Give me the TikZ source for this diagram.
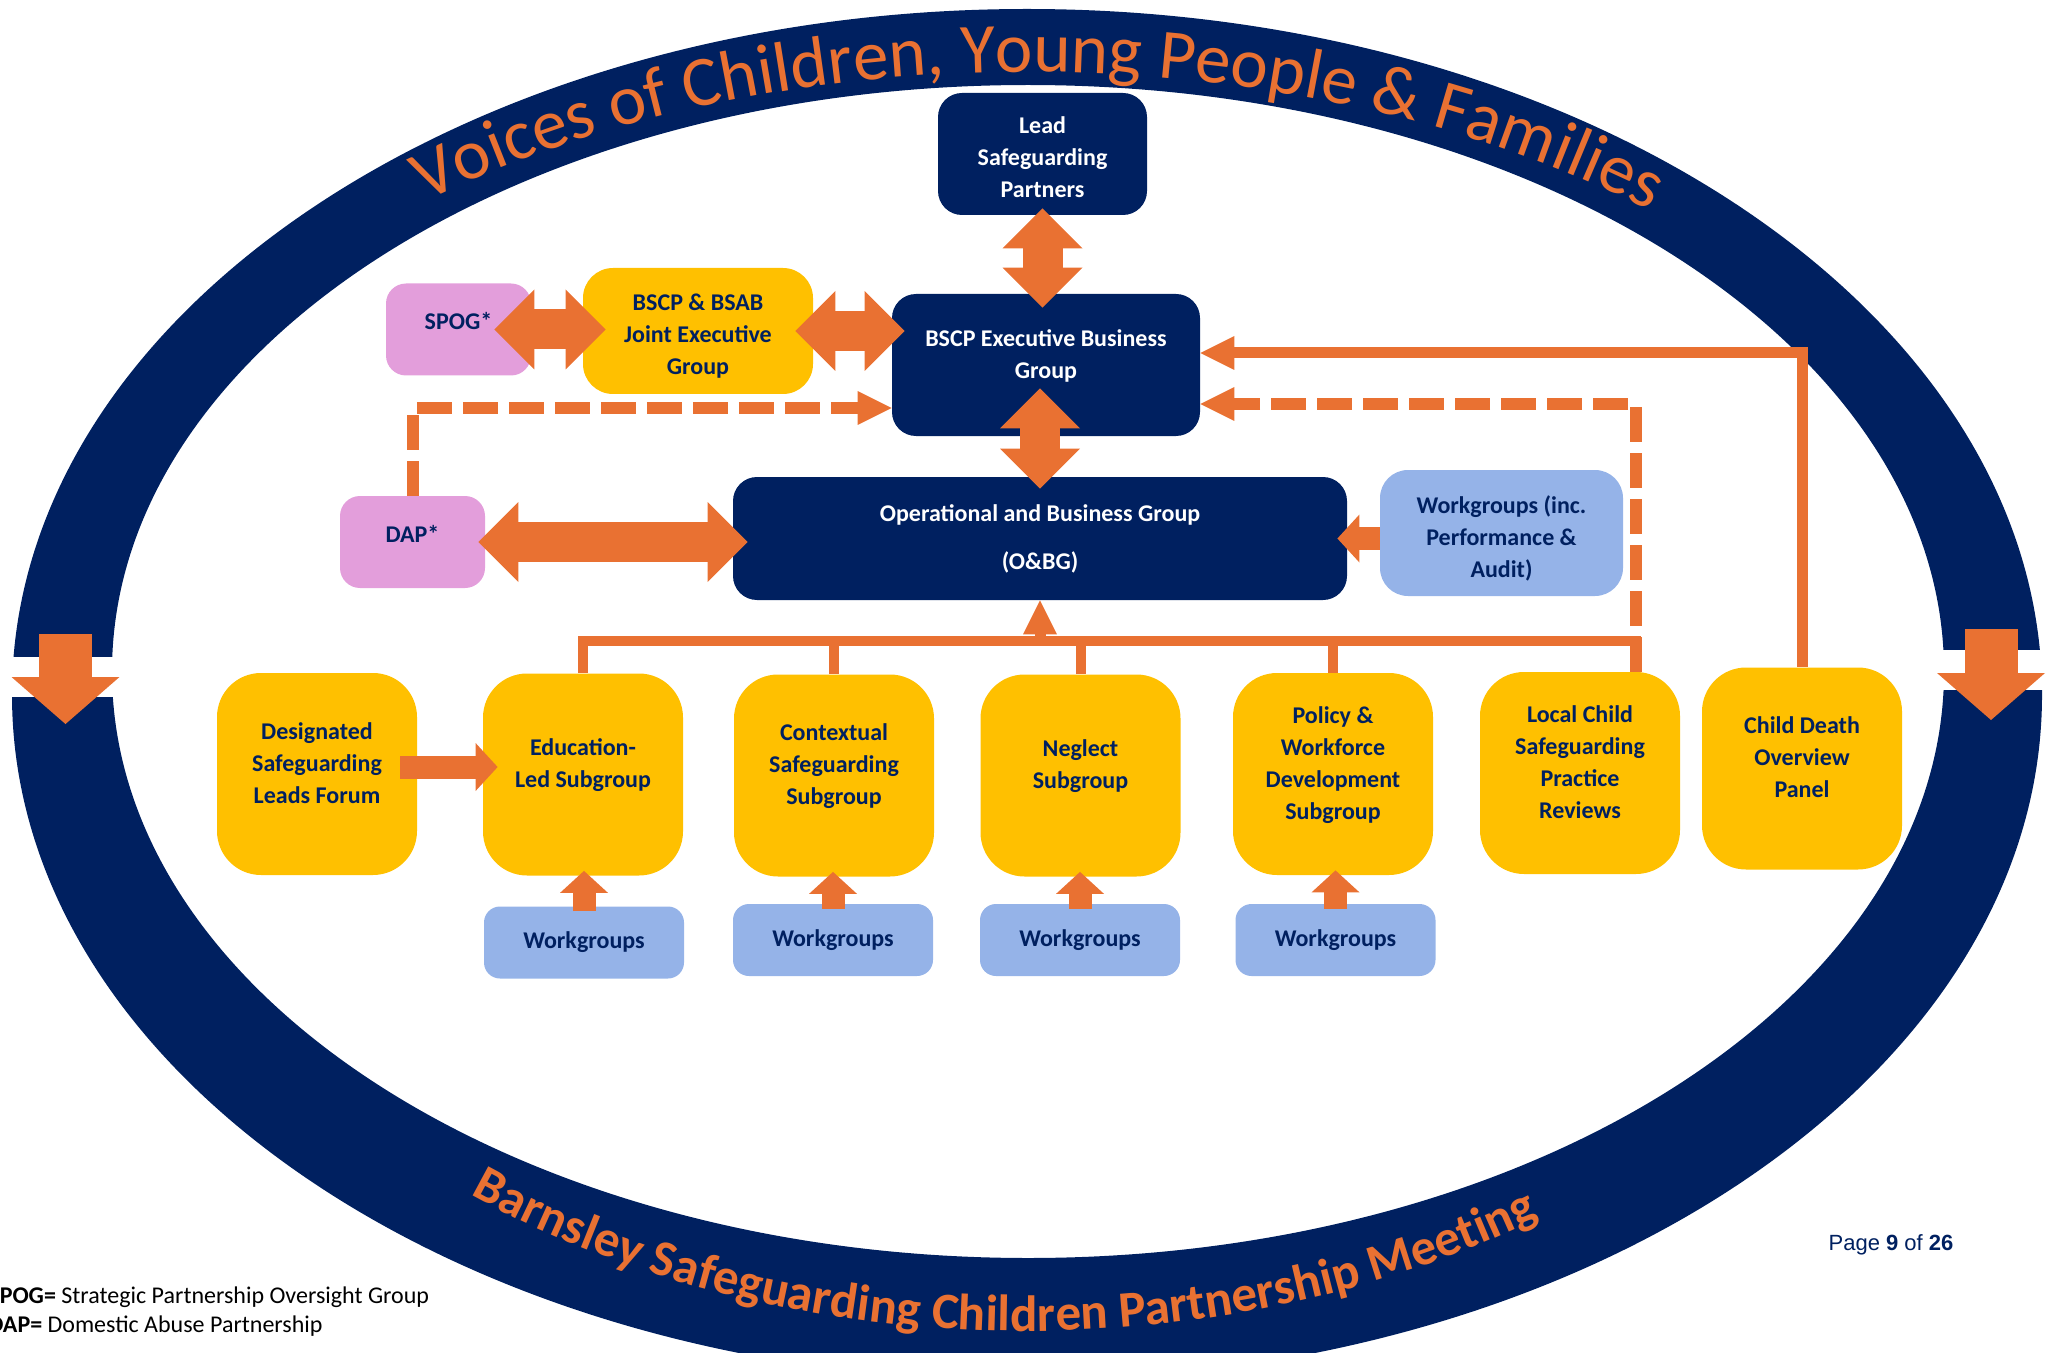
\documentclass[tikz,border=0pt]{standalone}
\usepackage{fontspec}
\setmainfont{Carlito}
\newfontfamily\footfont{Liberation Sans}
\usepackage{tikz}
\usetikzlibrary{arrows.meta}
\usetikzlibrary{decorations.text}

\definecolor{navy}{HTML}{002060}
\definecolor{sunny}{HTML}{FFC000}
\definecolor{lilac}{HTML}{E39EDB}
\definecolor{skyblue}{HTML}{95B3E8}
\definecolor{flame}{HTML}{E97132}

\begin{document}
\begin{tikzpicture}[x=0.5pt, y=-0.5pt,
        box/.style={inner sep=0pt, align=center, font=\fontsize{12}{16}\selectfont\bfseries, text=navy},
        darkbox/.style={box, fill=navy, text=white, rounded corners=12pt},
        subbox/.style={box, fill=sunny, rounded corners=22pt, minimum width=100pt, minimum height=101pt, text depth=11pt},
        pinkbox/.style={box, fill=lilac, rounded corners=10pt, minimum width=72.5pt, minimum height=46pt, text depth=8.5pt},
        wgbox/.style={box, fill=skyblue, rounded corners=8pt, minimum width=100pt, minimum height=36pt},
        fatarrow/.style={flame, line width=20pt, {Triangle[width=40pt, length=20pt, line width=0pt]}-{Triangle[width=40pt, length=20pt, line width=0pt]}},
        smallarrow/.style={flame, line width=11.5pt, -{Triangle[width=24pt, length=11pt, line width=0pt]}},
        feed/.style={flame, line width=5.5pt, -{Triangle[width=17pt, length=17pt, line width=0pt]}},
        dashfeed/.style={feed, line width=6pt, dash pattern=on 17.5pt off 5.5pt},
        bus/.style={flame, line width=5pt},
        ringarrow/.style={flame, line width=26.5pt, -{Triangle[width=54pt, length=23.5pt, line width=0pt]}}
    ]
        \useasboundingbox (0,0) rectangle (2055,1353);

        % Ring
        \coordinate (ringc) at (1028,672);
        \coordinate (ringb) at (1027,693);
        \fill[navy, even odd rule] (1027,695) ellipse[x radius=1015, y radius=686] (1028,671.5) ellipse[x radius=916, y radius=586.5];
        \fill[white] (0,657) rectangle (140,697);
        \fill[white] (1915,650) rectangle (2055,690);
        \coordinate (ltop) at (65.5,634);
        \coordinate (lbot) at (65.5,724);
        \coordinate (rtop) at (1991,629);
        \coordinate (rbot) at (1991,720);
        \draw[ringarrow] (ltop) -- (lbot);
        \draw[ringarrow] (rtop) -- (rbot);
        \path[decorate, decoration={text along path, text align=center,
            text={|\fontsize{35.5}{35.5}\selectfont\color{flame}|Voices of Children, Young People {\&} Families}}]
            (ringc) ++(191:972 and 600) arc[start angle=191, end angle=351, x radius=972, y radius=600];
        \path[decorate, decoration={text along path, text align=center,
            text={|\fontsize{25.5}{25.5}\selectfont\bfseries\color{flame}|Barnsley Safeguarding Children Partnership Meeting}}]
            (ringb) ++(172:900 and 638) arc[start angle=172, end angle=12.4, x radius=900, y radius=638];

        % Nodes
        \node[darkbox, minimum width=104.5pt, minimum height=61pt, text height=44pt] (lead) at (1042.5,154) {Lead\\Safeguarding\\Partners};
        \node[darkbox, minimum width=154pt, minimum height=71pt, text depth=10.5pt] (exec) at (1046,365) {BSCP Executive Business\\Group};
        \node[box, fill=sunny, rounded corners=15pt, minimum width=115pt, minimum height=63pt, text height=45.5pt] (joint) at (698,331) {BSCP \& BSAB\\Joint Executive\\Group};
        \node[pinkbox] (spog) at (458.5,329.5) {SPOG*};
        \node[pinkbox] (dap) at (412.5,542) {DAP*};
        \node[darkbox, minimum width=307pt, minimum height=61.5pt] (obg) at (1040,538.5) {Operational and Business Group\\[8pt](O\&BG)};
        \node[box, fill=skyblue, rounded corners=14pt, minimum width=121.5pt, minimum height=63pt, text height=46pt] (wgpa) at (1501.5,533) {Workgroups (inc.\\Performance \&\\Audit)};

        \node[subbox] (dslf) at (317,774) {Designated\\Safeguarding\\Leads Forum};
        \node[subbox] (edu) at (583,774.5) {Education-\\Led Subgroup};
        \node[subbox] (ctx) at (834,775.5) {Contextual\\Safeguarding\\Subgroup};
        \node[subbox] (neglect) at (1080.5,775.5) {Neglect\\Subgroup};
        \node[subbox] (policy) at (1333,774) {Policy \&\\Workforce\\Development\\Subgroup};
        \node[subbox] (lcspr) at (1580,773) {Local Child\\Safeguarding\\Practice\\Reviews};
        \node[subbox] (cdop) at (1802,768.5) {Child Death\\Overview\\Panel};

        \node[wgbox] (wgedu) at (584,942.5) {Workgroups};
        \node[wgbox] (wgctx) at (833,940) {Workgroups};
        \node[wgbox] (wgneg) at (1080,940) {Workgroups};
        \node[wgbox] (wgpol) at (1335.5,940) {Workgroups};

        % Edges
        \draw[fatarrow, shorten <=-3.5pt, shorten >=-7pt] (lead.south) -- (lead.south |- exec.north);
        \draw[fatarrow, shorten <=-24pt, shorten >=-6pt] (exec.south -| obg.north) -- (obg.north);
        \draw[fatarrow, shorten <=-18.5pt, shorten >=-11.5pt] (spog.east) -- (spog.east -| joint.west);
        \draw[fatarrow, shorten <=-9pt, shorten >=-6.5pt] (joint.east) -- (joint.east -| exec.west);
        \draw[fatarrow, shorten <=-3.5pt, shorten >=-7.5pt] (dap.east) -- (dap.east -| obg.west);

        \draw[smallarrow, shorten >=-5pt] (wgpa.west |- obg.east) -- (obg.east);
        \draw[smallarrow, shorten <=-8.5pt, shorten >=-7.5pt] ([yshift=3.5pt]dslf.east) -- ([yshift=3.5pt]dslf.east -| edu.west);
        \draw[smallarrow, shorten <=-2.5pt, shorten >=-2.5pt] (wgedu.north) -- (wgedu.north |- edu.south);
        \draw[smallarrow, shorten <=-2.5pt, shorten >=-2.5pt] (wgctx.north) -- (wgctx.north |- ctx.south);
        \draw[smallarrow, shorten <=-2.5pt, shorten >=-2.5pt] (wgneg.north) -- (wgneg.north |- neglect.south);
        \draw[smallarrow, shorten <=-2.5pt, shorten >=-2.5pt] (wgpol.north) -- (wgpol.north |- policy.south);

        \draw[feed] (cdop.north) |- ([yshift=6pt]exec.east);
        \coordinate (lcdrop) at ([xshift=-22pt]lcspr.north east);
        \draw[dashfeed] (lcdrop) |- ([yshift=-19.5pt]exec.east);
        \draw[dashfeed] (dap.north) |- ([yshift=-21.5pt]exec.west);

        \coordinate (bus) at (1043,641);
        \draw[bus] (edu.north) |- (lcdrop |- bus) -- (lcdrop);
        \draw[bus] (ctx.north) -- (ctx.north |- bus);
        \draw[bus] (neglect.north) -- (neglect.north |- bus);
        \draw[bus] (policy.north) -- (policy.north |- bus);
        \draw[feed] (obg.south |- bus) -- (obg.south);

        % Labels
        \node[anchor=base west, inner sep=0pt, font=\fontsize{12}{14}\selectfont] (legspog) at (-12,1303) {\textbf{SPOG=} Strategic Partnership Oversight Group};
        \node[anchor=base west, inner sep=0pt, font=\fontsize{12}{14}\selectfont] (legdap) at (-12,1332) {\textbf{DAP=} Domestic Abuse Partnership};
        \node[anchor=base, inner sep=0pt, text=navy, font=\footfont\fontsize{11}{13}\selectfont] (pagenum) at (1891,1250) {Page \textbf{9} of \textbf{26}};
    \end{tikzpicture}
\end{document}
